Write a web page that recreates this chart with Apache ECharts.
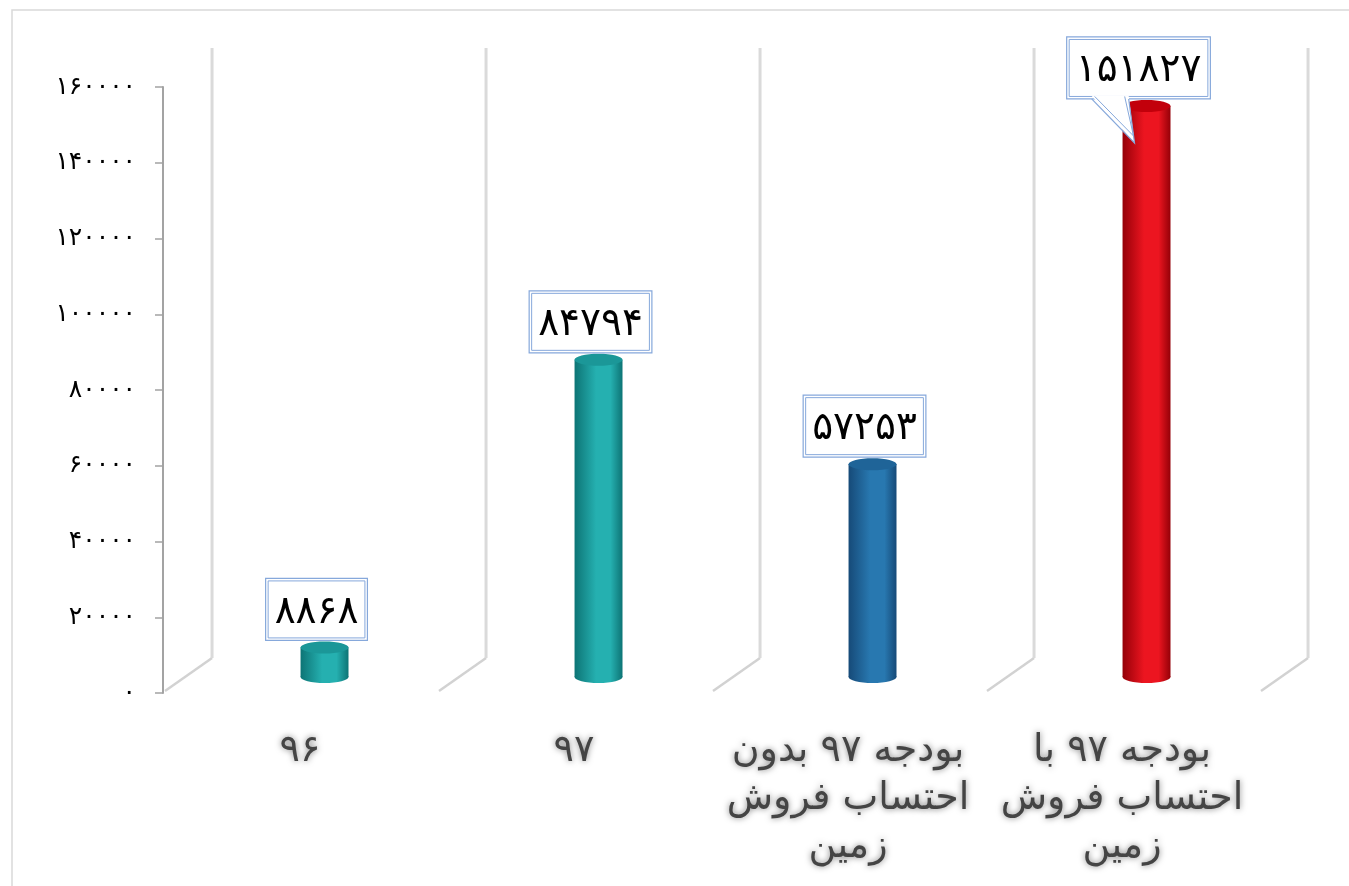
<!DOCTYPE html>
<html>
<head>
<meta charset="utf-8">
<title>بودجه</title>
<script src="https://cdn.jsdelivr.net/npm/echarts@6/dist/echarts.min.js"></script>
<style>
  html, body { margin: 0; padding: 0; background: #fff; }
  #chart { width: 1349px; height: 886px; }
</style>
</head>
<body>
<div id="chart"></div>
<script>
var categories = ['۹۶', '۹۷', 'بودجه ۹۷ بدون\nاحتساب فروش\nزمین', 'بودجه ۹۷ با\nاحتساب فروش\nزمین']
var values = [8868, 84794, 57253, 151827]
var yTicks = [0, 20000, 40000, 60000, 80000, 100000, 120000, 140000, 160000]

// cylinder colours: [edge, middle, cap]
var palette = [
  ['#0d7475', '#25b0b0', '#1b9798'],
  ['#0d7475', '#25b0b0', '#1b9798'],
  ['#164a78', '#2878b0', '#1f6498'],
  ['#950008', '#ec1520', '#c2000b']
]

var faDigits = '۰۱۲۳۴۵۶۷۸۹'
function toFa(n) {
  return String(n).replace(/\d/g, function(d) { return faDigits[d] })
}

var measureCtx = document.createElement('canvas').getContext('2d')
var labelFont = '39px "DejaVu Sans"'
measureCtx.font = labelFont

var depthRatio = 0.179
var depthY = -35
var boxBlue = '#86a8db'

function renderWalls(params, api) {
  var i = api.value(0)
  var bw = api.size([1, 0])[0]
  var p0 = api.coord([i, 0])
  var pTop = api.coord([i, yTicks[yTicks.length - 1]])
  var dx = bw * depthRatio
  var children = []
  var xs = [p0[0] - bw / 2]
  if (i === values.length - 1) xs.push(p0[0] + bw / 2)
  xs.forEach(function(x) {
    children.push({
      type: 'line',
      shape: { x1: x + 2, y1: p0[1] - 2, x2: x + dx, y2: p0[1] + depthY },
      style: { stroke: '#d2d2d2', lineWidth: 2.5 }
    })
    children.push({
      type: 'line',
      shape: { x1: x + dx, y1: p0[1] + depthY, x2: x + dx, y2: pTop[1] + depthY - 4 },
      style: { stroke: '#dadada', lineWidth: 3 }
    })
  })
  return { type: 'group', children: children }
}

function renderCylinder(params, api) {
  var i = api.value(0)
  var v = api.value(1)
  var bw = api.size([1, 0])[0]
  var p0 = api.coord([i, 0])
  var pv = api.coord([i, v])
  var cx = p0[0] + bw * depthRatio / 2
  var w = bw * 0.175
  var rx = w / 2, ry = 6
  var yTop = pv[1] - 12
  var yBot = p0[1] - 16
  var c = palette[i]
  var grad = new echarts.graphic.LinearGradient(0, 0, 1, 0, [
    { offset: 0, color: c[0] },
    { offset: 0.45, color: c[1] },
    { offset: 0.75, color: c[1] },
    { offset: 1, color: c[0] }
  ])
  var children = [
    { type: 'ellipse', shape: { cx: cx, cy: yBot, rx: rx, ry: ry }, style: { fill: grad } },
    { type: 'rect', shape: { x: cx - rx, y: yTop, width: w, height: yBot - yTop }, style: { fill: grad } },
    { type: 'ellipse', shape: { cx: cx, cy: yTop, rx: rx, ry: ry }, style: { fill: c[2] } }
  ]

  // value callout
  var txt = toFa(v)
  var tw = measureCtx.measureText(txt).width
  var W = tw + 18, H = 62
  var bx = cx - 8 - W / 2
  var by = yTop - ry - 1 - H
  var B = by + H
  children.push({ type: 'rect', shape: { x: bx, y: by, width: W, height: H }, style: { fill: '#fff', stroke: boxBlue, lineWidth: 1.2 } })
  children.push({ type: 'rect', shape: { x: bx + 2.5, y: by + 2.5, width: W - 5, height: H - 5 }, style: { fill: 'none', stroke: boxBlue, lineWidth: 1 } })
  if (v === Math.max.apply(null, values)) {
    var tip = [cx - 12, B + 44]
    children.push({
      type: 'polygon',
      shape: { points: [[bx + 25, B - 3], [bx + 62, B - 3], tip] },
      style: { fill: '#fff', stroke: 'none' }
    })
    children.push({ type: 'polyline', shape: { points: [[bx + 25, B], tip, [bx + 62, B]] }, style: { stroke: boxBlue, lineWidth: 1.2, fill: 'none' } })
    children.push({ type: 'polyline', shape: { points: [[bx + 28, B - 2.5], [tip[0] - 1, tip[1] - 7], [bx + 58, B - 2.5]] }, style: { stroke: boxBlue, lineWidth: 1, fill: 'none' } })
  }
  children.push({
    type: 'text',
    style: {
      text: txt, x: bx + W / 2, y: by + H / 2 + 3,
      align: 'center', verticalAlign: 'middle',
      font: labelFont, fill: '#000'
    }
  })
  return { type: 'group', children: children }
}

var chart = echarts.init(document.getElementById('chart'))
var seriesData = values.map(function(v, i) { return [i, v] })

chart.setOption({
  animation: false,
  backgroundColor: '#fff',
  graphic: [
    {
      type: 'rect',
      shape: { x: 12, y: 10, width: 1400, height: 900 },
      style: { fill: 'none', stroke: '#d9d9d9', lineWidth: 1.5 },
      silent: true
    }
  ],
  grid: { left: 163, right: 90, top: 87, bottom: 193 },
  xAxis: {
    type: 'category',
    data: categories,
    axisLine: { show: false },
    axisTick: { show: false },
    splitLine: { show: false },
    axisLabel: {
      interval: 0,
      margin: 34,
      fontSize: 38,
      lineHeight: 48,
      fontFamily: 'DejaVu Sans',
      color: '#444',
      textShadowColor: 'rgba(0,0,0,0.5)',
      textShadowBlur: 6
    }
  },
  yAxis: {
    type: 'value',
    min: yTicks[0],
    max: yTicks[yTicks.length - 1],
    interval: yTicks[1] - yTicks[0],
    splitLine: { show: false },
    axisLine: { show: true, lineStyle: { color: '#a3a3a3', width: 2 } },
    axisTick: { show: true, length: 8, lineStyle: { color: '#a3a3a3', width: 1.5 } },
    axisLabel: {
      margin: 27,
      fontSize: 25,
      fontFamily: 'DejaVu Sans',
      color: '#000',
      formatter: function(val) { return toFa(val) }
    }
  },
  series: [
    {
      type: 'custom',
      silent: true,
      renderItem: renderWalls,
      encode: { x: 0, y: 1 },
      data: seriesData,
      z: 1
    },
    {
      type: 'custom',
      silent: true,
      renderItem: renderCylinder,
      encode: { x: 0, y: 1 },
      data: seriesData,
      z: 3
    }
  ]
})
</script>
</body>
</html>
